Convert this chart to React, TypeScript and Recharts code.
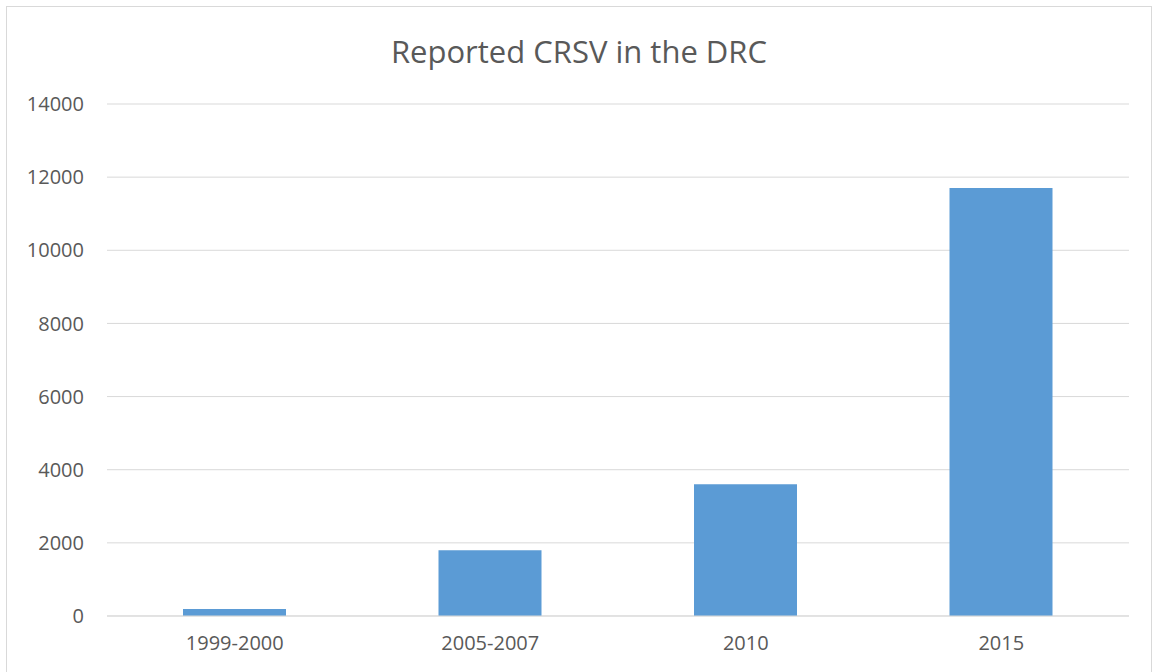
import React from 'react';
import { BarChart, Bar, XAxis, YAxis, CartesianGrid } from 'recharts';

const categories = ['1999-2000', '2005-2007', '2010', '2015'];
const reportedCases = [190, 1800, 3600, 11700];
const yTicks = [0, 2000, 4000, 6000, 8000, 10000, 12000, 14000];

const data = categories.map((period, i) => ({ period, value: reportedCases[i] }));

const FONT = '"Open Sans", "Liberation Sans", sans-serif';
const TEXT = '#595959';

const App: React.FC = () => {
  return (
    <div
      style={{
        position: 'absolute',
        left: 6,
        top: 6,
        width: 1144,
        height: 680,
        border: '1px solid #d9d9d9',
        background: '#fff',
        fontFamily: FONT,
      }}
    >
      <div
        style={{
          position: 'absolute',
          top: 24,
          left: 0,
          width: '100%',
          textAlign: 'center',
          fontSize: 31,
          color: TEXT,
          lineHeight: '40px',
        }}
      >
        Reported CRSV in the DRC
      </div>
      <BarChart
        width={1144}
        height={666}
        data={data}
        margin={{ top: 97, right: 22, bottom: 27, left: 0 }}
        barSize={103}
      >
        <CartesianGrid vertical={false} stroke="#d9d9d9" strokeWidth={1} />
        <XAxis
          dataKey="period"
          tickLine={false}
          axisLine={{ stroke: '#d9d9d9' }}
          height={30}
          tick={{ fill: TEXT, fontSize: 20, fontFamily: FONT }}
          tickMargin={14}
        />
        <YAxis
          width={100}
          domain={[0, 14000]}
          ticks={yTicks}
          interval={0}
          tickLine={false}
          axisLine={false}
          tick={{ fill: TEXT, fontSize: 20, fontFamily: FONT }}
          tickMargin={17}
        />
        <Bar dataKey="value" fill="#5b9bd5" isAnimationActive={false} />
      </BarChart>
    </div>
  );
};

export default App;
